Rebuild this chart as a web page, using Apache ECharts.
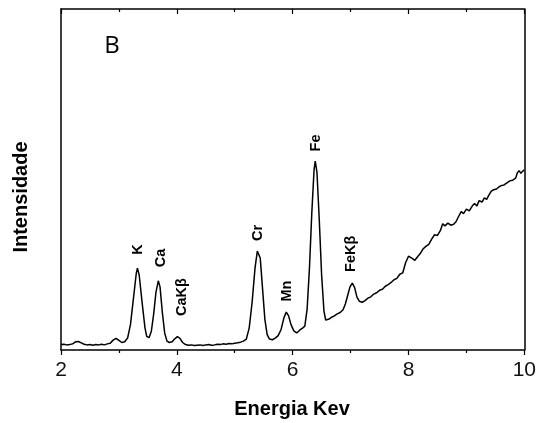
<!DOCTYPE html>
<html><head><meta charset="utf-8">
<script src="https://cdn.jsdelivr.net/npm/echarts@6/dist/echarts.min.js"></script>
<style>html,body{margin:0;padding:0;background:#fff}#c{width:539px;height:423px}</style>
</head><body><div id="c"></div>
<script>
var energy = [2.00,2.05,2.10,2.15,2.20,2.25,2.30,2.35,2.40,2.45,2.50,2.55,2.60,2.65,2.70,2.75,2.80,2.85,2.90,2.95,3.00,3.05,3.10,3.15,3.20,3.25,3.30,3.32,3.35,3.40,3.45,3.48,3.52,3.56,3.60,3.64,3.68,3.71,3.75,3.79,3.83,3.87,3.92,3.96,4.01,4.05,4.10,4.15,4.20,4.25,4.30,4.35,4.40,4.45,4.50,4.55,4.60,4.65,4.70,4.75,4.80,4.85,4.90,4.95,5.00,5.05,5.10,5.15,5.20,5.25,5.30,5.35,5.39,5.41,5.44,5.48,5.52,5.56,5.60,5.65,5.70,5.75,5.80,5.85,5.89,5.93,5.97,6.02,6.07,6.12,6.17,6.21,6.25,6.29,6.33,6.37,6.39,6.42,6.46,6.50,6.54,6.57,6.62,6.67,6.72,6.77,6.82,6.87,6.91,6.95,6.99,7.03,7.07,7.11,7.15,7.20,7.25,7.30,7.35,7.40,7.45,7.50,7.55,7.60,7.65,7.70,7.75,7.80,7.85,7.90,7.95,8.00,8.03,8.07,8.11,8.16,8.20,8.25,8.30,8.35,8.40,8.45,8.50,8.55,8.59,8.63,8.68,8.73,8.78,8.82,8.86,8.91,8.95,9.00,9.05,9.10,9.14,9.18,9.22,9.27,9.31,9.35,9.39,9.43,9.47,9.52,9.56,9.60,9.65,9.70,9.75,9.80,9.85,9.88,9.91,9.94,9.97,10.00];
var intensity = [1.6,1.7,1.5,1.6,1.8,2.4,2.5,2.1,1.7,1.5,1.6,1.4,1.6,1.5,1.7,1.5,1.8,2.0,2.9,3.4,2.8,2.2,2.4,3.5,7.5,15.0,22.5,24.0,22.0,14.0,6.5,4.0,3.6,5.5,10.5,17.0,20.3,18.5,11.0,5.0,2.6,2.2,2.4,3.2,3.9,3.5,2.2,1.6,1.4,1.5,1.3,1.4,1.5,1.3,1.5,1.6,1.4,1.5,1.7,1.6,1.8,1.7,1.9,1.8,2.0,2.1,2.3,2.6,3.2,6.5,14.0,24.0,29.0,29.5,27.0,18.0,9.0,4.5,3.2,3.0,3.5,4.2,6.0,9.5,11.1,10.0,7.5,5.6,5.0,5.8,6.4,7.0,12.0,24.0,40.0,53.0,55.4,52.0,38.0,22.0,11.5,8.8,9.0,9.6,10.0,10.6,11.0,11.8,13.5,16.0,18.5,19.6,18.3,15.5,14.3,14.0,14.5,15.2,15.6,16.4,16.8,17.5,17.8,18.7,19.2,19.8,20.6,21.0,22.2,22.6,25.6,27.5,28.0,26.8,26.3,27.4,28.2,29.6,30.4,31.0,32.5,33.8,33.6,35.0,37.0,36.4,37.2,36.6,36.9,37.6,39.0,40.6,40.0,41.3,40.8,42.2,43.0,42.2,43.8,43.4,44.6,44.2,45.5,46.6,47.0,47.2,47.8,48.2,48.4,49.0,49.6,49.8,50.4,52.0,52.6,51.8,52.4,52.8];
var peakNames = ['K','Ca','CaKβ','Cr','Mn','Fe','FeKβ'];
var peakLabelX = [3.33,3.73,4.09,5.405,5.91,6.41,7.00];
var peakLabelY = [29.5,27.0,15.5,34.3,17.3,60.7,28.2];
var xTicks = [2,4,6,8,10];

var data = energy.map(function(e,i){return [e,intensity[i]];});
var chart = echarts.init(document.getElementById('c'));
var FONT = '"Liberation Sans", Arial, sans-serif';
var opt = {
  animation:false,
  grid:{left:61,right:14,top:9,bottom:73},
  xAxis:[{
    type:'value',min:xTicks[0],max:xTicks[xTicks.length-1],interval:2,position:'bottom',
    axisLine:{show:true,onZero:false,lineStyle:{color:'#000',width:1.5}},
    axisTick:{show:true,inside:false,length:5,lineStyle:{color:'#000',width:1.2}},
    minorTick:{show:true,splitNumber:2,length:3,lineStyle:{color:'#000',width:1.2}},
    splitLine:{show:false},
    axisLabel:{fontFamily:FONT,fontSize:21,color:'#111',margin:10}
  },{
    type:'value',min:xTicks[0],max:xTicks[xTicks.length-1],interval:2,position:'top',
    axisLine:{show:true,onZero:false,lineStyle:{color:'#000',width:1.5}},
    axisTick:{show:true,inside:true,length:5,lineStyle:{color:'#000',width:1.2}},
    minorTick:{show:true,splitNumber:2,length:3,lineStyle:{color:'#000',width:1.2}},
    splitLine:{show:false},axisLabel:{show:false}
  }],
  yAxis:[{
    type:'value',min:0,max:100,position:'left',
    axisLine:{show:true,onZero:false,lineStyle:{color:'#000',width:1.5}},
    axisTick:{show:false},axisLabel:{show:false},splitLine:{show:false}
  },{
    type:'value',min:0,max:100,position:'right',
    axisLine:{show:true,onZero:false,lineStyle:{color:'#000',width:1.5}},
    axisTick:{show:false},axisLabel:{show:false},splitLine:{show:false}
  }],
  series:[{
    type:'line',data:data,showSymbol:false,symbol:'none',
    lineStyle:{color:'#000',width:1.5},xAxisIndex:0,yAxisIndex:0
  }]
};
chart.setOption(opt);
var g = [];
peakNames.forEach(function(n,i){
  var p = chart.convertToPixel({xAxisIndex:0,yAxisIndex:0},[peakLabelX[i],peakLabelY[i]]);
  g.push({type:'text',x:p[0],y:p[1],rotation:Math.PI/2,
    style:{text:n,fontFamily:FONT,fontWeight:'bold',fontSize:14.5,fill:'#000',align:'center',verticalAlign:'middle'}});
});
g.push({type:'text',x:112,y:46,style:{text:'B',fontFamily:'"Open Sans", sans-serif',fontSize:24,fill:'#000',align:'center',verticalAlign:'middle'}});
g.push({type:'text',x:292,y:409,style:{text:'Energia Kev',fontFamily:FONT,fontWeight:'bold',fontSize:20,fill:'#000',align:'center',verticalAlign:'middle'}});
g.push({type:'text',x:21,y:197,rotation:Math.PI/2,style:{text:'Intensidade',fontFamily:FONT,fontWeight:'bold',fontSize:20,fill:'#000',align:'center',verticalAlign:'middle'}});
chart.setOption({graphic:g});
</script></body></html>
